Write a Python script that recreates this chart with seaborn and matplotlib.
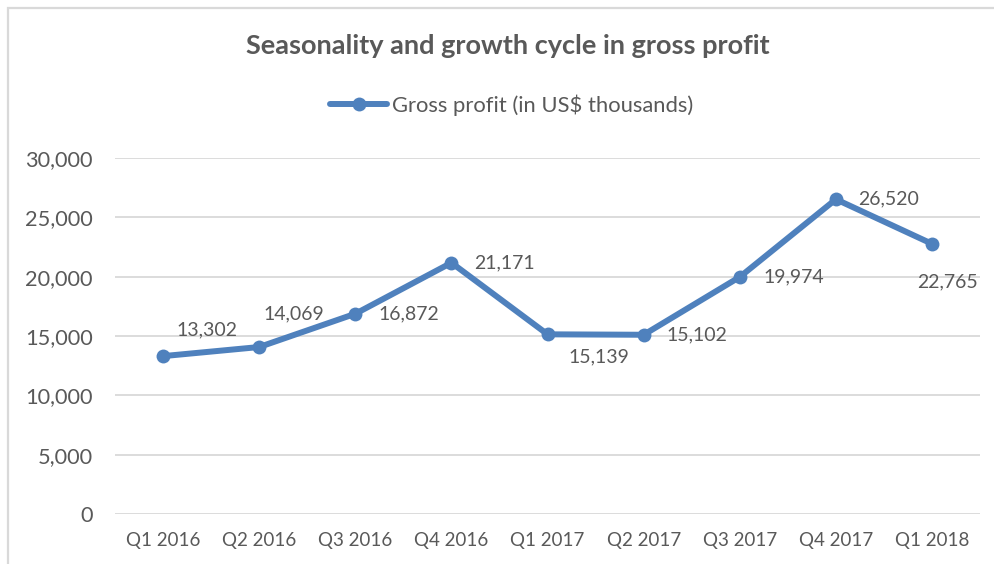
import pandas as pd
import seaborn as sns
import matplotlib.pyplot as plt
from matplotlib.patches import Rectangle
from matplotlib.ticker import FuncFormatter

# data
quarters = ["Q1 2016", "Q2 2016", "Q3 2016", "Q4 2016", "Q1 2017",
            "Q2 2017", "Q3 2017", "Q4 2017", "Q1 2018"]
gross_profit = [13302, 14069, 16872, 21171, 15139, 15102, 19974, 26520, 22765]
series_name = "Gross profit (in US$ thousands)"

BLUE = "#4f81bd"
TEXT = "#595959"
GRID = "#d9d9d9"

sns.set_theme(style="white")
plt.rcParams["font.family"] = ["Lato", "DejaVu Sans"]

df = pd.DataFrame({"quarter": quarters, "profit": gross_profit})

fig = plt.figure(figsize=(9.95, 5.64), dpi=100)
ax = fig.add_axes([0.1156, 0.0887, 0.8694, 0.6312])

sns.lineplot(data=df, x="quarter", y="profit", ax=ax, color=BLUE,
             linewidth=4.3, marker="o", markersize=10, markeredgewidth=0,
             label=series_name, clip_on=False)

ax.set_xlim(-0.5, len(quarters) - 0.5)
ax.set_ylim(0, 30000)
ax.set_yticks(range(0, 30001, 5000))
ax.yaxis.set_major_formatter(FuncFormatter(lambda v, _: f"{int(v):,}"))
ax.grid(axis="y", color=GRID, linewidth=1.3)
ax.set_axisbelow(True)
for s in ax.spines.values():
    s.set_visible(False)
ax.tick_params(axis="both", length=0, labelcolor=TEXT)
ax.tick_params(axis="y", pad=16, labelsize=15.7)
ax.tick_params(axis="x", pad=13, labelsize=13.5)
ax.set_xlabel("")
ax.set_ylabel("")

# data labels (pixel offsets from each point, mostly to the right like Excel)
offsets = [(13, 26), (4, 33), (23, 0), (23, 0), (21, -23),
           (23, 0), (24, 0), (22, 0), (-15, -38)]
for i, (val, off) in enumerate(zip(gross_profit, offsets)):
    ax.annotate(f"{val:,}", (i, val), xytext=off, textcoords="offset pixels",
                ha="left", va="center", fontsize=14, color=TEXT)

fig.text(0.51, 1 - 46 / 564, "Seasonality and growth cycle in gross profit",
         ha="center", va="center", fontsize=19.5, fontweight="bold", color=TEXT)

ax.legend(loc="center", bbox_to_anchor=(0.514, 1 - 105 / 564),
          bbox_transform=fig.transFigure, frameon=False, fontsize=15.8,
          handlelength=2.6, handletextpad=0.2, labelcolor=TEXT)

# light chart-area border (only top/left visible in the crop)
fig.patches.append(Rectangle((8 / 995, -0.1), 2, 1.1 - 8 / 564,
                             transform=fig.transFigure, fill=False,
                             edgecolor=GRID, linewidth=1.6))

fig.savefig("out.png", dpi=100)
